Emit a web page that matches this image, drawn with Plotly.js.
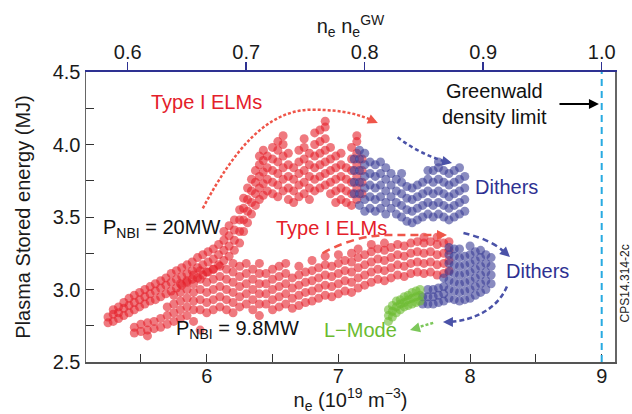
<!DOCTYPE html>
<html><head><meta charset="utf-8">
<script src="https://cdn.plot.ly/plotly-3.0.1.min.js"></script>
<style>html,body{margin:0;padding:0;background:#fff}#chart{width:632px;height:414px}</style>
</head><body><div id="chart"></div>
<script>
// Each column: [ne (1e19 m^-3), stored energy readings (MJ)...]
const elm20MW = [
[5.25,2.77,2.81],[5.29,2.78,2.83,2.86],[5.33,2.80,2.84,2.88],[5.37,2.82,2.87,2.91],
[5.41,2.84,2.89,2.94],[5.45,2.86,2.91,2.96],[5.49,2.88,2.93,2.98],[5.53,2.90,2.95,3.00],
[5.57,2.92,2.97,3.02],[5.61,2.93,2.99,3.04],[5.65,2.95,3.01,3.06],[5.69,2.97,3.03,3.08],
[5.73,2.99,3.05,3.11],[5.77,3.01,3.07,3.13],[5.81,3.03,3.09,3.15],[5.85,3.05,3.11,3.17],
[5.89,3.07,3.13,3.19],[5.93,3.08,3.15,3.22],[5.97,3.10,3.17,3.24],[6.01,3.12,3.19,3.26],
[6.05,3.14,3.21,3.28],[6.09,3.17,3.24,3.31],[6.13,3.20,3.27,3.34,3.40],[6.17,3.23,3.30,3.37,3.44],
[6.21,3.27,3.34,3.41,3.48],[6.25,3.32,3.40,3.48,3.55],[6.28,3.40,3.48,3.56,3.63],[6.31,3.46,3.54,3.62,3.70],
[6.34,3.52,3.60,3.68,3.76],[6.37,3.58,3.66,3.74,3.82],[6.40,3.62,3.70,3.78,3.86,3.92],
[6.43,3.65,3.73,3.81,3.89,3.96],[6.46,3.68,3.76,3.84,3.92],[6.50,3.66,3.74,3.82,3.90,3.98],
[6.54,3.64,3.72,3.80,3.88,3.96,4.02],[6.58,3.68,3.76,3.84,3.92,4.00,4.06],[6.62,3.62,3.70,3.78,3.86,3.94],
[6.66,3.60,3.68,3.76,3.84],[6.70,3.64,3.72,3.80,3.88,3.96],[6.74,3.66,3.74,3.82,3.90,3.98,4.04],
[6.78,3.62,3.70,3.78,3.86,3.94],[6.82,3.68,3.76,3.84,3.92,4.00,4.08],[6.86,3.70,3.78,3.86,3.94,4.02,4.10],
[6.90,3.72,3.80,3.88,3.96,4.04,4.12,4.16],[6.94,3.66,3.74,3.82,3.90,3.98],[6.98,3.60,3.68,3.76,3.84,3.92],
[7.02,3.62,3.70,3.78,3.86,3.94],[7.06,3.60,3.68,3.76,3.84],[7.10,3.58,3.66,3.74,3.82,3.90,3.98],
[7.14,3.62,3.70,3.78,3.86,3.94,4.02,4.06],[7.18,3.66,3.74,3.82,3.90]
];
const dithers20MW = [
[7.12,3.66,3.74,3.82,3.90],[7.16,3.58,3.66,3.74,3.82,3.90,3.96],[7.20,3.54,3.62,3.70,3.78,3.86,3.94],
[7.24,3.56,3.64,3.72,3.80,3.88],[7.28,3.54,3.62,3.70,3.78,3.86],[7.32,3.56,3.64,3.72,3.80,3.88],
[7.36,3.52,3.60,3.68,3.76,3.84],[7.40,3.56,3.64,3.72,3.80],[7.44,3.52,3.60,3.68,3.76],
[7.48,3.50,3.58,3.66,3.74,3.80],[7.52,3.47,3.55,3.63,3.71],[7.56,3.46,3.54,3.62,3.70],
[7.60,3.48,3.56,3.64,3.72],[7.64,3.50,3.58,3.66,3.74],[7.68,3.52,3.60,3.68,3.76,3.82],
[7.72,3.50,3.58,3.66,3.74,3.82],[7.76,3.52,3.60,3.68,3.76,3.84,3.88],[7.80,3.50,3.58,3.66,3.74,3.82],
[7.84,3.48,3.56,3.64,3.72,3.80],[7.88,3.50,3.58,3.66,3.74,3.82],[7.92,3.52,3.60,3.68,3.76,3.84],
[7.96,3.54,3.62,3.70,3.78]
];
const elm98MW = [
[5.45,2.70,2.74],[5.50,2.71,2.76],[5.55,2.68,2.72,2.77],[5.60,2.73,2.78],[5.65,2.74,2.80],
[5.70,2.76,2.82,2.88],[5.75,2.78,2.84,2.90,2.96],[5.80,2.80,2.86,2.92,2.98,3.04],
[5.85,2.82,2.88,2.94,3.00,3.06],[5.90,2.78,2.86,2.92,2.98,3.04,3.10],[5.95,2.72,2.86,2.93,3.00,3.07,3.13],
[6.00,2.84,2.91,2.98,3.05,3.12],[6.05,2.86,2.93,3.00,3.07,3.14],[6.10,2.88,2.95,3.02,3.09,3.16],
[6.15,2.86,2.93,3.00,3.07,3.14],[6.20,2.84,2.91,2.98,3.05,3.12,3.18],[6.25,2.88,2.95,3.02,3.09,3.16],
[6.30,2.90,2.97,3.04,3.11,3.18],[6.35,2.86,2.93,3.00,3.07,3.14],[6.40,2.82,2.90,2.97,3.04,3.11,3.18],
[6.45,2.90,2.97,3.04,3.11],[6.50,2.86,2.93,3.00,3.07,3.14],[6.55,2.88,2.95,3.02,3.09,3.16],
[6.60,2.90,2.97,3.04,3.11,3.18],[6.65,2.87,2.94,3.01,3.08],[6.70,2.89,2.96,3.03,3.10,3.16],
[6.75,2.91,2.98,3.05,3.12],[6.80,2.92,2.99,3.06,3.13,3.20],[6.85,2.94,3.01,3.08,3.15],
[6.90,2.96,3.03,3.10,3.17,3.23],[6.95,2.95,3.02,3.09,3.16],[7.00,2.97,3.04,3.11,3.18,3.24],
[7.05,2.99,3.06,3.13,3.20],[7.10,2.98,3.05,3.12,3.19,3.25],[7.15,3.01,3.08,3.15,3.22,3.28],
[7.20,3.03,3.10,3.17,3.24],[7.25,3.05,3.12,3.19,3.26,3.31],[7.30,3.07,3.14,3.21,3.28],
[7.35,3.06,3.13,3.20,3.27,3.32],[7.40,3.08,3.15,3.22,3.29],[7.45,3.10,3.17,3.24,3.31],
[7.50,3.09,3.16,3.23,3.30],[7.55,3.11,3.18,3.25,3.32],[7.60,3.12,3.19,3.26,3.33],
[7.65,3.11,3.18,3.25,3.32,3.36],[7.70,3.12,3.19,3.26,3.33],[7.75,3.10,3.17,3.24,3.31,3.36],
[7.80,3.11,3.18,3.25,3.32],[7.84,3.13,3.20,3.27,3.33]
];
const dithers98MW = [
[7.64,2.90,2.95],[7.68,2.90,2.95,3.00],[7.72,2.90,2.95,3.00],[7.76,2.91,2.96,3.01],
[7.80,2.92,2.97,3.02,3.08],[7.84,2.94,3.00,3.06,3.12,3.18,3.24,3.29],[7.88,2.93,2.99,3.05,3.11,3.17,3.23,3.28],
[7.92,2.92,2.98,3.04,3.10,3.16,3.22,3.28],[7.96,2.93,2.99,3.05,3.11,3.17,3.23],
[8.00,2.94,3.00,3.06,3.12,3.18,3.24,3.30],[8.04,2.96,3.02,3.08,3.14,3.20,3.26],
[8.08,2.98,3.04,3.10,3.16,3.22,3.27],[8.12,3.00,3.06,3.12,3.18,3.24],[8.16,3.04,3.10,3.16,3.22]
];
const lMode98MW = [
[7.38,2.78,2.82,2.86],[7.41,2.81,2.85,2.89],[7.44,2.84,2.88,2.92],[7.47,2.86,2.90,2.93],
[7.50,2.88,2.91,2.95],[7.53,2.89,2.93,2.96],[7.56,2.90,2.94,2.98],[7.59,2.91,2.95,2.99],[7.62,2.92,2.96,3.00]
];
const neTicks = [5.5,6,6.5,7,7.5,8,8.5,9];
const neTickText = ['','6','','7','','8','','9'];
const wTicks = [2.5,2.75,3,3.25,3.5,3.75,4,4.25,4.5];
const wTickText = ['2.5','','3.0','','3.5','','4.0','','4.5'];
const gwTicks = [0.6,0.7,0.8,0.9,1.0];
const gwTickText = ['0.6','0.7','0.8','0.9','1.0'];
const neGW = 9.0;
const neRange = [5.083, 9.101];
const wRange = [2.5, 4.5];

function flat(cols){
  const x=[],y=[];
  cols.forEach(c=>{for(let i=1;i<c.length;i++){x.push(c[0]);y.push(c[i]);}});
  return {x,y};
}
const RED='#e4202a', BLUE='#3a3d96', GREEN='#6bbb2f', NAVY='#2e3192';
function tr(cols,color){
  const d=flat(cols);
  return {type:'scatter',mode:'markers',x:d.x,y:d.y,hoverinfo:'skip',showlegend:false,
    marker:{color:color,size:9,opacity:0.6,line:{width:0}}};
}
const traces=[tr(elm98MW,RED),tr(elm20MW,RED),tr(dithers20MW,BLUE),tr(dithers98MW,BLUE),tr(lMode98MW,GREEN),
  {type:'scatter',mode:'markers',x:gwTicks,y:gwTicks.map(()=>null),xaxis:'x2',hoverinfo:'skip',showlegend:false}];

const FONT='Arial, "Liberation Sans", sans-serif';
function arrowHead(x,y,ax,ay,color){
  return {x:x,y:y,ax:ax,ay:ay,xref:'x',yref:'y',axref:'x',ayref:'y',text:'',showarrow:true,
    arrowhead:2,arrowsize:1,arrowwidth:2,arrowcolor:color};
}
function label(text,x,y,color,size){
  return {text:text,x:x,y:y,xref:'x',yref:'y',showarrow:false,font:{family:FONT,size:size||20,color:color}};
}
const layout={
  width:632,height:414,margin:{l:86,r:17,t:72,b:52},
  paper_bgcolor:'#fff',plot_bgcolor:'#fff',
  font:{family:FONT,size:20,color:'#1a1a1a'},
  xaxis:{range:neRange,tickmode:'array',tickvals:neTicks,ticktext:neTickText,ticks:'inside',ticklen:8,
    tickcolor:'#333',showline:true,linecolor:'#555',linewidth:1.5,showgrid:false,zeroline:false,ticklabelstandoff:-5,
    tickfont:{size:20},title:{text:'n<sub>e</sub> (10<sup>19</sup> m<sup>−3</sup>)',font:{size:20},standoff:12}},
  xaxis2:{overlaying:'x',side:'top',range:[neRange[0]/neGW,neRange[1]/neGW],tickmode:'array',tickvals:gwTicks,
    ticktext:gwTickText,ticks:'outside',ticklen:8,tickcolor:NAVY,tickwidth:1.5,showline:true,linecolor:NAVY,linewidth:2.5,
    showgrid:false,zeroline:false,tickfont:{size:20},ticklabelstandoff:-5,
    title:{text:'n<sub>e</sub> n<sub>e</sub><sup>GW</sup>',font:{size:20},standoff:0}},
  yaxis:{range:wRange,tickmode:'array',tickvals:wTicks,ticktext:wTickText,ticks:'inside',ticklen:8,
    tickcolor:'#333',showline:true,linecolor:'#666',linewidth:1.5,mirror:true,showgrid:false,zeroline:false,
    tickfont:{size:20},title:{text:'Plasma Stored energy (MJ)',font:{size:20},standoff:16}},
  shapes:[
    {type:'line',xref:'x',yref:'y',x0:neGW,x1:neGW,y0:wRange[0],y1:wRange[1],line:{color:'#27aae1',width:2,dash:'7px,5px'}},
    {type:'path',xref:'x',yref:'y',path:'M5.97,3.56 C6.2,3.95 6.45,4.24 6.8,4.24 C7.05,4.24 7.18,4.2 7.27,4.16',line:{color:'#ef5549',width:2.5,dash:'3px,2px'}},
    {type:'path',xref:'x',yref:'y',path:'M7.45,4.05 Q7.62,3.93 7.84,3.875',line:{color:'#4a52a8',width:2.5,dash:'4px,3px'}},
    {type:'path',xref:'x',yref:'y',path:'M6.88,3.25 Q7.13,3.376 7.39,3.376 L7.80,3.376',line:{color:'#ef5549',width:2.5,dash:'8px,5px'}},
    {type:'path',xref:'x',yref:'y',path:'M7.95,3.39 C8.13,3.35 8.22,3.3 8.28,3.24',line:{color:'#4a52a8',width:2.5,dash:'6px,4px'}},
    {type:'path',xref:'x',yref:'y',path:'M8.28,3.02 C8.2,2.85 8.0,2.78 7.82,2.776',line:{color:'#4a52a8',width:2.5,dash:'5px,3px'}},
    {type:'path',xref:'x',yref:'y',path:'M7.72,2.77 L7.57,2.73',line:{color:'#7cc75a',width:2.5,dash:'3px,2px'}}
  ],
  annotations:[
    label('Type I ELMs',6.00,4.293,RED),
    label('Type I ELMs',6.95,3.424,RED),
    label('P<sub>NBI</sub> = 20MW',5.653,3.424,'#111'),
    label('P<sub>NBI</sub> = 9.8MW',6.237,2.721,'#111'),
    label('L−Mode',7.171,2.721,GREEN),
    label('Dithers',8.28,3.707,NAVY),
    label('Dithers',8.516,3.128,NAVY),
    label('Greenwald<br>density limit',8.182,4.279,'#111'),
    arrowHead(7.30,4.148,7.22,4.18,'#ef5549'),
    arrowHead(7.863,3.872,7.80,3.885,'#4a52a8'),
    arrowHead(7.825,3.376,7.76,3.376,'#ef5549'),
    arrowHead(8.303,3.224,8.26,3.26,'#4a52a8'),
    arrowHead(7.794,2.776,7.86,2.776,'#4a52a8'),
    arrowHead(7.544,2.721,7.60,2.735,'#7cc75a'),
    {x:8.979,y:4.279,ax:8.668,ay:4.279,xref:'x',yref:'y',axref:'x',ayref:'y',text:'',showarrow:true,arrowhead:2,arrowsize:1,arrowwidth:2,arrowcolor:'#000'},
    {text:'CPS14.314-2c',xref:'paper',yref:'paper',x:1.035,y:0.128,textangle:-90,showarrow:false,font:{family:FONT,size:12,color:'#222'}}
  ]
};
Plotly.newPlot('chart',traces,layout,{staticPlot:true,displayModeBar:false});
</script></body></html>
